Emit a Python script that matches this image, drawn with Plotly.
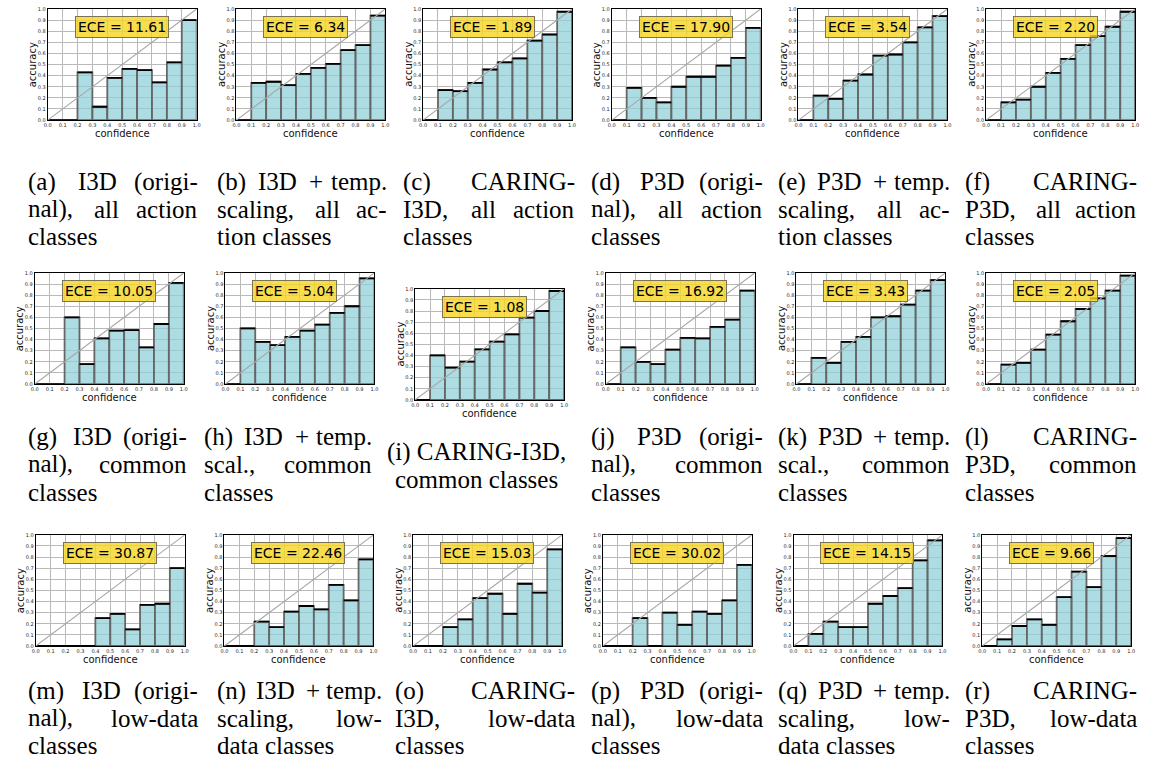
import plotly.graph_objects as go

W, H = 1157, 778

bin_lefts = [0.0, 0.1, 0.2, 0.3, 0.4, 0.5, 0.6, 0.7, 0.8, 0.9]
tick_vals = [0.0, 0.1, 0.2, 0.3, 0.4, 0.5, 0.6, 0.7, 0.8, 0.9, 1.0]
tick_text = ["0.0", "0.1", "0.2", "0.3", "0.4", "0.5", "0.6", "0.7", "0.8", "0.9", "1.0"]

# accuracy per confidence bin, one list per panel
acc_a = [0, 0, 0.43, 0.12, 0.38, 0.46, 0.45, 0.34, 0.52, 0.90]
acc_b = [0, 0.335, 0.345, 0.315, 0.415, 0.47, 0.505, 0.63, 0.675, 0.94]
acc_c = [0, 0.27, 0.26, 0.335, 0.455, 0.52, 0.555, 0.715, 0.77, 0.975]
acc_d = [0, 0.29, 0.20, 0.16, 0.30, 0.39, 0.39, 0.49, 0.56, 0.83]
acc_e = [0, 0.22, 0.19, 0.355, 0.41, 0.58, 0.59, 0.70, 0.835, 0.935]
acc_f = [0, 0.16, 0.185, 0.30, 0.425, 0.55, 0.675, 0.755, 0.84, 0.975]
acc_g = [0, 0, 0.60, 0.18, 0.41, 0.48, 0.485, 0.33, 0.54, 0.91]
acc_h = [0, 0.50, 0.38, 0.35, 0.425, 0.48, 0.535, 0.64, 0.70, 0.95]
acc_i = [0, 0.40, 0.29, 0.345, 0.455, 0.525, 0.59, 0.74, 0.80, 0.98]
acc_j = [0, 0.33, 0.20, 0.18, 0.31, 0.415, 0.41, 0.515, 0.58, 0.84]
acc_k = [0, 0.235, 0.19, 0.38, 0.425, 0.60, 0.61, 0.715, 0.84, 0.935]
acc_l = [0, 0.175, 0.19, 0.31, 0.445, 0.565, 0.675, 0.77, 0.84, 0.975]
acc_m = [0, 0, 0, 0, 0.25, 0.29, 0.15, 0.37, 0.38, 0.70]
acc_n = [0, 0, 0.22, 0.17, 0.31, 0.36, 0.33, 0.55, 0.41, 0.78]
acc_o = [0, 0, 0.17, 0.24, 0.43, 0.47, 0.29, 0.56, 0.48, 0.87]
acc_p = [0, 0, 0.25, 0, 0.30, 0.19, 0.31, 0.29, 0.41, 0.73]
acc_q = [0, 0.11, 0.22, 0.17, 0.17, 0.38, 0.45, 0.52, 0.77, 0.95]
acc_r = [0, 0.06, 0.18, 0.24, 0.19, 0.44, 0.67, 0.53, 0.81, 0.97]

ece_values = ["11.61", "6.34", "1.89", "17.90", "3.54", "2.20",
              "10.05", "5.04", "1.08", "16.92", "3.43", "2.05",
              "30.87", "22.46", "15.03", "30.02", "14.15", "9.66"]

captions = [
    ["(a) I3D (origi-", "nal), all action", "classes"],
    ["(b) I3D + temp.", "scaling, all ac-", "tion classes"],
    ["(c) CARING-", "I3D, all action", "classes"],
    ["(d) P3D (origi-", "nal), all action", "classes"],
    ["(e) P3D + temp.", "scaling, all ac-", "tion classes"],
    ["(f) CARING-", "P3D, all action", "classes"],
    ["(g) I3D (origi-", "nal), common", "classes"],
    ["(h) I3D + temp.", "scal., common", "classes"],
    ["(i) CARING-I3D,", "common classes"],
    ["(j) P3D (origi-", "nal), common", "classes"],
    ["(k) P3D + temp.", "scal., common", "classes"],
    ["(l) CARING-", "P3D, common", "classes"],
    ["(m) I3D (origi-", "nal), low-data", "classes"],
    ["(n) I3D + temp.", "scaling, low-", "data classes"],
    ["(o) CARING-", "I3D, low-data", "classes"],
    ["(p) P3D (origi-", "nal), low-data", "classes"],
    ["(q) P3D + temp.", "scaling, low-", "data classes"],
    ["(r) CARING-", "P3D, low-data", "classes"],
]

all_acc = [acc_a, acc_b, acc_c, acc_d, acc_e, acc_f,
           acc_g, acc_h, acc_i, acc_j, acc_k, acc_l,
           acc_m, acc_n, acc_o, acc_p, acc_q, acc_r]

# layout: plot-area left/top in pixels
PW, PH = 150, 112
panel_pos = [
    (44, 6), (234, 6), (422, 6), (612, 6), (800, 6), (989, 6),
    (31, 272), (223, 272), (414, 288), (606, 272), (798, 272), (989, 272),
    (32, 536), (222, 536), (412, 536), (603, 536), (795, 536), (985, 536),
]
# caption column (left, right) in pixels per panel
cap_cols = [
    (22, 197), (212, 388), (400, 577), (589, 766), (777, 955), (966, 1143),
    (22, 186), (199, 373), (384, 568), (589, 766), (777, 955), (966, 1143),
    (22, 197), (212, 383), (392, 577), (589, 766), (777, 955), (966, 1143),
]
row_line_y = [[180, 208, 235], [437, 465, 493], [693, 721, 748]]

BAR_FILL = "rgba(141,206,215,0.72)"
BAR_EDGE = "#666666"

fig = go.Figure()
annotations = []

def px(x):
    return x / W

def py(y):
    return 1 - y / H

for i, acc in enumerate(all_acc):
    n = "" if i == 0 else str(i + 1)
    xa, ya = "x" + n, "y" + n
    centers = [l + 0.05 for l in bin_lefts]
    fig.add_trace(go.Bar(x=centers, y=acc, width=0.1, xaxis=xa, yaxis=ya,
                         marker=dict(color=BAR_FILL, line=dict(color=BAR_EDGE, width=1.8)),
                         hoverinfo="skip"))
    tx, ty = [], []
    for l, a in zip(bin_lefts, acc):
        tx += [l, l + 0.1, None]
        ty += [a, a, None]
    fig.add_trace(go.Scatter(x=tx, y=ty, mode="lines", xaxis=xa, yaxis=ya,
                             line=dict(color="black", width=1.8), hoverinfo="skip"))
    fig.add_trace(go.Scatter(x=[0, 1], y=[0, 1], mode="lines", xaxis=xa, yaxis=ya,
                             line=dict(color="#a8a8a8", width=1.1), hoverinfo="skip"))

    left, top = panel_pos[i]
    axcommon = dict(range=[0, 1], tickvals=tick_vals, ticktext=tick_text,
                    tickfont=dict(size=5, family="DejaVu Sans", color="#222"),
                    showgrid=True, gridcolor="#b9b9b9", gridwidth=1.2,
                    showline=True, linecolor="black", linewidth=1, mirror=True,
                    ticks="", zeroline=False, fixedrange=True)
    fig.update_layout(**{
        "xaxis" + n: dict(domain=[px(left), px(left + PW)], anchor=ya, **axcommon),
        "yaxis" + n: dict(domain=[py(top + PH), py(top)], anchor=xa, **axcommon),
    })

    # axis titles
    annotations.append(dict(x=px(left + PW / 2), y=py(top + PH + 13.5), xref="paper", yref="paper",
                            text="confidence", showarrow=False, xanchor="center", yanchor="middle",
                            font=dict(family="DejaVu Sans", size=10, color="#111")))
    annotations.append(dict(x=px(left - 15), y=py(top + PH / 2), xref="paper", yref="paper",
                            text="accuracy", showarrow=False, textangle=-90,
                            xanchor="center", yanchor="middle",
                            font=dict(family="DejaVu Sans", size=10, color="#111")))
    # ECE box
    annotations.append(dict(x=px(left + 0.18 * PW), y=py(top + 0.165 * PH), xref="paper", yref="paper",
                            text="ECE = " + ece_values[i], showarrow=False,
                            xanchor="left", yanchor="middle",
                            bgcolor="rgba(246,214,40,0.82)", bordercolor="#7a7355",
                            borderwidth=1, borderpad=2,
                            font=dict(family="DejaVu Sans", size=14, color="black")))

# caption text with justified lines
CW = {' ': 250, '(': 333, ')': 333, '+': 564, ',': 250, '-': 333, '.': 250,
      'A': 722, 'C': 667, 'D': 722, 'G': 722, 'I': 333, 'N': 722, 'P': 556, 'R': 667,
      'a': 444, 'b': 500, 'c': 444, 'd': 500, 'e': 444, 'f': 333, 'g': 500, 'h': 500,
      'i': 278, 'j': 278, 'k': 500, 'l': 278, 'm': 778, 'n': 500, 'o': 500, 'p': 500,
      'q': 500, 'r': 333, 's': 389, 't': 278, 'u': 500, 'w': 722, 'y': 500}
FS = 25
CAP_FONT = dict(family="Liberation Serif", size=FS, color="black")

def wwidth(w):
    return sum(CW.get(ch, 500) for ch in w) / 1000 * FS

for i, lines in enumerate(captions):
    row = i // 6
    left, right = cap_cols[i]
    for li, line in enumerate(lines):
        if i == 8:
            ys = [452, 480]
            lx = [384, 392]
            annotations.append(dict(x=px(lx[li]), y=py(ys[li]), xref="paper", yref="paper",
                                    text=line, showarrow=False, xanchor="left", yanchor="middle",
                                    font=CAP_FONT))
            continue
        y = row_line_y[row][li]
        last = li == len(lines) - 1
        words = line.split(" ")
        if last or len(words) == 1:
            annotations.append(dict(x=px(left), y=py(y), xref="paper", yref="paper",
                                    text=line, showarrow=False, xanchor="left", yanchor="middle",
                                    font=CAP_FONT))
            continue
        widths = [wwidth(w) for w in words]
        colw = right - left
        gap = (colw - sum(widths)) / (len(words) - 1)
        x = left
        for wi, w in enumerate(words):
            if wi == len(words) - 1:
                annotations.append(dict(x=px(right), y=py(y), xref="paper", yref="paper",
                                        text=w, showarrow=False, xanchor="right", yanchor="middle",
                                        font=CAP_FONT))
            else:
                annotations.append(dict(x=px(x), y=py(y), xref="paper", yref="paper",
                                        text=w, showarrow=False, xanchor="left", yanchor="middle",
                                        font=CAP_FONT))
            x += widths[wi] + gap

fig.update_layout(width=W, height=H, margin=dict(l=0, r=0, t=0, b=0),
                  showlegend=False, plot_bgcolor="white", paper_bgcolor="white",
                  annotations=annotations, barmode="overlay")

fig.write_html("out.html")
